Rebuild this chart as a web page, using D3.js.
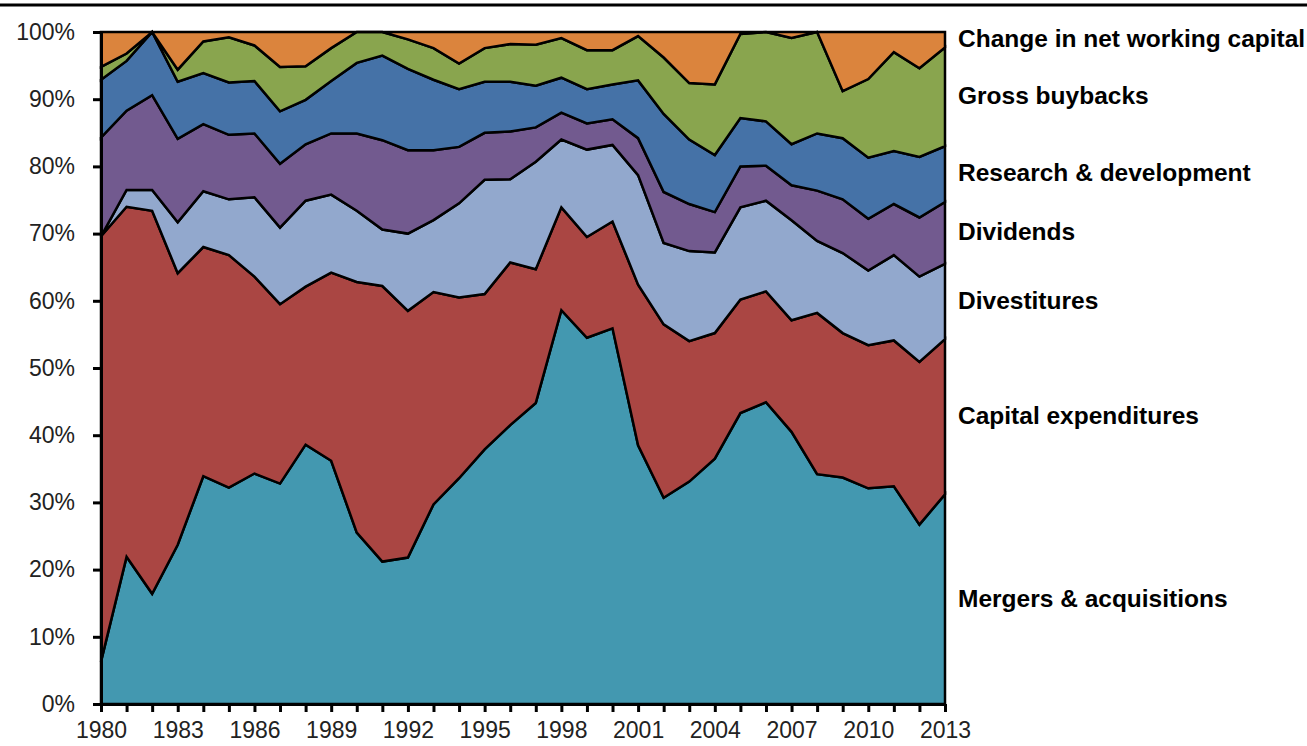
<!DOCTYPE html>
<html>
<head>
<meta charset="utf-8">
<script src="https://cdn.jsdelivr.net/npm/d3@7"></script>
<style>
  body { margin: 0; background: #fff; }
  .axis text { font-family: 'Liberation Sans', Arial, sans-serif; font-size: 23px; fill: #222; }
  .series-label { font-family: 'Liberation Sans', Arial, sans-serif; font-size: 24.5px; font-weight: bold; fill: #000; }
</style>
</head>
<body>
<svg id="chart"></svg>
<script>
// years on the x axis
const years = d3.range(1980, 2014);

// series names, bottom to top of the stack
const seriesNames = [
  'Mergers & acquisitions',
  'Capital expenditures',
  'Divestitures',
  'Dividends',
  'Research & development',
  'Gross buybacks',
  'Change in net working capital'
];

// share of total spending (%), one value per year
const mergers = [6.3, 21.9, 16.4, 23.7, 33.9, 32.2, 34.3, 32.8, 38.6, 36.2, 25.5, 21.2, 21.8, 29.7, 33.6, 37.9, 41.5,
  44.8, 58.6, 54.5, 55.9, 38.5, 30.7, 33.1, 36.5, 43.3, 44.9, 40.5, 34.2, 33.7, 32.1, 32.4, 26.7, 31.2];
const capex = [63.3, 52.1, 57.0, 40.4, 34.1, 34.6, 29.3, 26.7, 23.5, 28.0, 37.3, 41.0, 36.7, 31.6, 26.9, 23.1, 24.2,
  19.9, 15.3, 15.0, 15.9, 23.9, 25.8, 20.9, 18.7, 16.9, 16.5, 16.6, 24.0, 21.5, 21.3, 21.7, 24.2, 23.1];
const divestitures = [0.0, 2.5, 3.1, 7.6, 8.3, 8.3, 11.8, 11.4, 12.8, 11.6, 10.6, 8.4, 11.5, 10.7, 14.0, 17.0, 12.4,
  16.0, 10.1, 13.0, 11.4, 16.3, 12.1, 13.4, 12.0, 13.7, 13.5, 14.9, 10.7, 11.9, 11.1, 12.7, 12.7, 11.2];
const dividends = [14.7, 11.8, 14.1, 12.4, 10.0, 9.6, 9.5, 9.5, 8.4, 9.1, 11.5, 13.3, 12.4, 10.4, 8.4, 7.0, 7.1,
  5.1, 4.0, 3.9, 3.8, 5.5, 7.6, 7.0, 6.0, 6.1, 5.2, 5.2, 7.5, 8.0, 7.7, 7.6, 8.8, 9.2];
const research = [8.6, 7.4, 9.4, 8.5, 7.6, 7.8, 7.8, 7.8, 6.6, 7.8, 10.5, 12.6, 12.1, 10.5, 8.6, 7.6, 7.4,
  6.2, 5.2, 5.1, 5.2, 8.6, 11.6, 9.6, 8.5, 7.2, 6.6, 6.1, 8.5, 9.1, 9.1, 7.9, 9.0, 8.3];
const buybacks = [1.9, 1.1, 0.0, 1.8, 4.7, 6.7, 5.3, 6.6, 5.0, 4.9, 4.6, 3.5, 4.4, 4.7, 3.8, 5.0, 5.6,
  6.1, 5.9, 5.8, 5.1, 6.6, 8.4, 8.4, 10.5, 12.5, 13.3, 15.8, 15.1, 7.0, 11.7, 14.7, 13.2, 14.7];
const workingCapital = [5.2, 3.2, 0.0, 5.6, 1.4, 0.8, 2.0, 5.2, 5.1, 2.4, 0.0, 0.0, 1.1, 2.4, 4.7, 2.4, 1.8,
  1.9, 0.9, 2.7, 2.7, 0.6, 3.8, 7.6, 7.8, 0.3, 0.0, 0.9, 0.0, 8.8, 7.0, 3.0, 5.4, 2.3];

// tick labels
const yTicks = d3.range(0, 101, 10);
const xLabelYears = d3.range(1980, 2014, 3);

const seriesValues = [mergers, capex, divestitures, dividends, research, buybacks, workingCapital];
const colors = ['#4398B0', '#AA4643', '#92A8CD', '#725A8F', '#4572A7', '#89A54E', '#DB843D'];

class StackedAreaChart {

  constructor(_config, _data) {
    this.config = {
      parentElement: _config.parentElement,
      containerWidth: _config.containerWidth || 1307,
      containerHeight: _config.containerHeight || 746,
      margin: { top: 32, bottom: 42, right: 362, left: 101 }
    }
    this.data = _data;
    this.initVis();
  }

  initVis() {
    let vis = this;

    vis.width = vis.config.containerWidth - vis.config.margin.left - vis.config.margin.right;
    vis.height = vis.config.containerHeight - vis.config.margin.top - vis.config.margin.bottom;

    vis.svg = d3.select(vis.config.parentElement)
      .attr('width', vis.config.containerWidth)
      .attr('height', vis.config.containerHeight);

    // rule across the top of the page
    vis.svg.append('line')
      .attr('x1', 0).attr('x2', vis.config.containerWidth)
      .attr('y1', 5).attr('y2', 5)
      .attr('stroke', '#000')
      .attr('stroke-width', 3);

    vis.chart = vis.svg.append('g')
      .attr('transform', `translate(${vis.config.margin.left}, ${vis.config.margin.top})`);

    vis.xScale = d3.scaleLinear()
      .domain(d3.extent(years))
      .range([0, vis.width]);

    vis.yScale = d3.scaleLinear()
      .domain([0, 100])
      .range([vis.height, 0]);

    vis.xAxis = d3.axisBottom(vis.xScale)
      .tickValues(years)
      .tickFormat(d => xLabelYears.includes(d) ? d : '')
      .tickSize(8)
      .tickSizeOuter(0)
      .tickPadding(10);

    vis.yAxis = d3.axisLeft(vis.yScale)
      .tickValues(yTicks)
      .tickFormat(d => d + '%')
      .tickSize(8)
      .tickSizeOuter(0)
      .tickPadding(18);

    vis.updateVis();
  }

  updateVis() {
    let vis = this;

    vis.stack = d3.stack()
      .keys(seriesNames)
      .order(d3.stackOrderNone)
      .offset(d3.stackOffsetNone);
    vis.stacked = vis.stack(vis.data);

    vis.area = d3.area()
      .x(d => vis.xScale(d.data.year))
      .y0(d => vis.yScale(d[0]))
      .y1(d => vis.yScale(d[1]));

    vis.chart.selectAll('.layer')
      .data(vis.stacked)
      .join('path')
      .attr('class', 'layer')
      .attr('d', vis.area)
      .attr('fill', (d, i) => colors[i])
      .attr('stroke', '#000')
      .attr('stroke-width', 2.5)
      .attr('stroke-linejoin', 'miter');

    // axes on top of the areas
    vis.xAxisGroup = vis.chart.append('g')
      .attr('class', 'axis x-axis')
      .attr('transform', `translate(0, ${vis.height})`)
      .call(vis.xAxis);

    vis.yAxisGroup = vis.chart.append('g')
      .attr('class', 'axis y-axis')
      .call(vis.yAxis);

    vis.chart.selectAll('.axis path, .axis line')
      .attr('stroke', '#000')
      .attr('stroke-width', 3);

    // series names at the middle of each band in the last year
    vis.chart.selectAll('.series-label')
      .data(vis.stacked)
      .join('text')
      .attr('class', 'series-label')
      .attr('x', vis.width + 13)
      .attr('y', d => {
        const last = d[d.length - 1];
        return vis.yScale((last[0] + last[1]) / 2);
      })
      .attr('dy', '0.3em')
      .text(d => d.key);
  }
}

const tableData = years.map((year, i) => {
  const row = { year: year };
  seriesNames.forEach((name, j) => { row[name] = seriesValues[j][i]; });
  return row;
});

const chart = new StackedAreaChart({ parentElement: '#chart' }, tableData);
</script>
</body>
</html>
